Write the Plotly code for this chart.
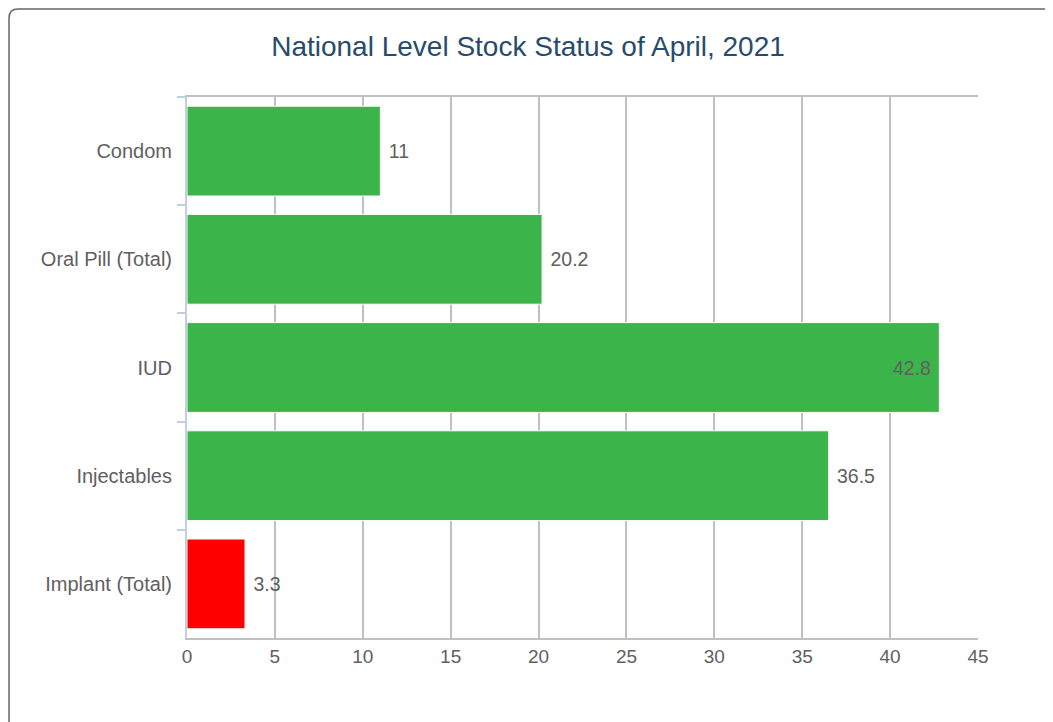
import plotly.graph_objects as go

categories = ["Condom", "Oral Pill (Total)", "IUD", "Injectables", "Implant (Total)"]
values = [11, 20.2, 42.8, 36.5, 3.3]
bar_colors = ["#3BB54A", "#3BB54A", "#3BB54A", "#3BB54A", "#FF0000"]
label_positions = ["outside", "outside", "inside", "outside", "outside"]
x_ticks = [0, 5, 10, 15, 20, 25, 30, 35, 40, 45]
title_text = "National Level Stock Status of April, 2021"

W, H = 1053, 722
OFF = 8  # page body margin offset
L, R, T, B = 187 - OFF, 75 + OFF, 97 - OFF, 84 + OFF
pw, ph = W - L - R, H - T - B

def px_x(p):
    return (p - L) / pw

def px_y(p):
    return (H - B - p) / ph

FONT = "Liberation Sans, Arial, sans-serif"
NB = "\u00a0"

labels = []
for v, pos in zip(values, label_positions):
    labels.append(f"{v}{NB}" if pos == "inside" else f"{NB}{v}")

fig = go.Figure()
fig.add_trace(go.Bar(
    y=categories,
    x=values,
    orientation="h",
    marker=dict(color=bar_colors, line=dict(color="#FFFFFF", width=1)),
    width=0.83,
    text=labels,
    textposition=label_positions,
    insidetextanchor="end",
    constraintext="none",
    cliponaxis=False,
    textfont=dict(family=FONT, size=19.5, color="#606060"),
    insidetextfont=dict(family=FONT, size=19.5, color="#606060"),
    outsidetextfont=dict(family=FONT, size=19.5, color="#606060"),
    hoverinfo="skip",
))

# chart container border (rounded)
r = 9
x0, y0 = px_x(1), px_y(1)
x1, y1 = px_x(1080), px_y(760)
rx, ry = r / pw, r / ph
path = (f"M {x0} {y1} L {x0} {y0 - ry} Q {x0} {y0} {x0 + rx} {y0} "
        f"L {x1} {y0}")
fig.add_shape(type="path", path=path, xref="paper", yref="paper",
              line=dict(color="#666666", width=1.5), layer="above")

fig.update_layout(
    width=W, height=H,
    margin=dict(l=L, r=R, t=T, b=B, pad=0),
    paper_bgcolor="#FFFFFF",
    plot_bgcolor="#FFFFFF",
    showlegend=False,
    font=dict(family=FONT, size=20, color="#606060"),
    title=dict(
        text=title_text,
        font=dict(family=FONT, size=28, color="#274B6D"),
        xref="container", yref="container",
        x=(528 - OFF) / W, xanchor="center",
        y=1 - (46 - OFF) / H, yanchor="middle",
    ),
    xaxis=dict(
        range=[0, 45],
        tickvals=x_ticks,
        ticktext=[str(t) for t in x_ticks],
        showgrid=True,
        gridcolor="#C0C0C0",
        gridwidth=1.5,
        zeroline=False,
        showline=True,
        mirror=True,
        linecolor="#C0C0C0",
        linewidth=2,
        ticks="",
        tickfont=dict(family=FONT, size=19, color="#606060"),
        fixedrange=True,
    ),
    yaxis=dict(
        type="category",
        categoryorder="array",
        categoryarray=categories,
        range=[4.5, -0.5],
        showgrid=False,
        zeroline=False,
        showline=True,
        linecolor="#C0D0E0",
        linewidth=2,
        ticks="outside",
        tickson="boundaries",
        ticklen=8,
        tickwidth=2,
        tickcolor="#C0D0E0",
        ticklabelstandoff=9,
        tickfont=dict(family=FONT, size=20, color="#606060"),
        fixedrange=True,
    ),
)

fig.write_html("out.html")
